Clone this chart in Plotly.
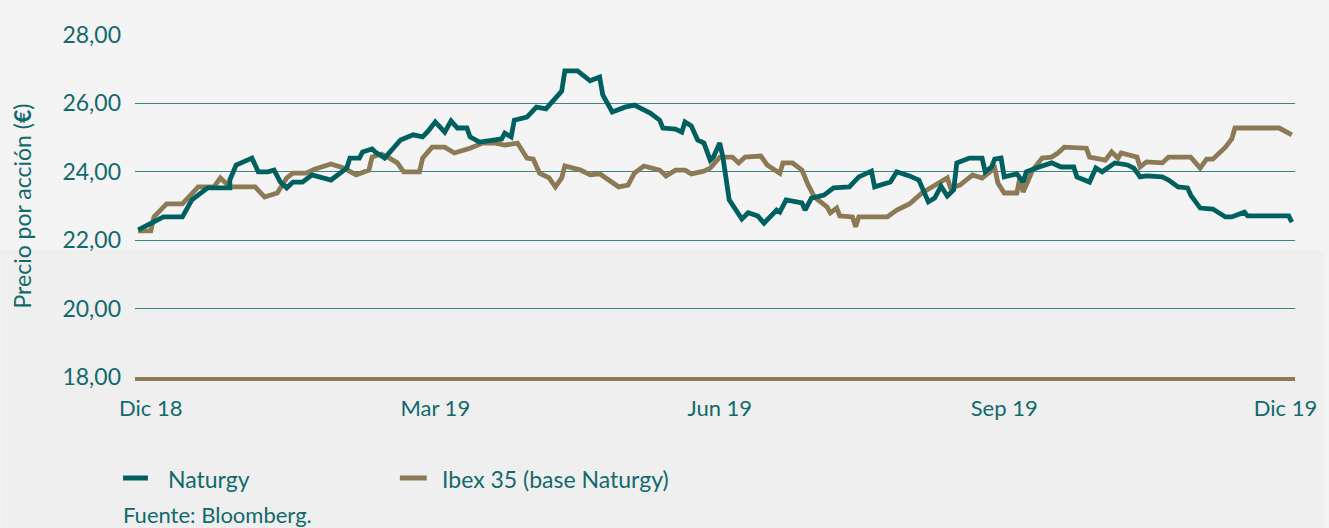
import pandas as pd
import plotly.graph_objects as go

# ---- data ----
base_date = "2018-12-31"

naturgy_day = [0, 8, 14, 17, 22, 29, 29, 31, 36, 38, 41, 43, 45, 47, 49, 52, 55, 61, 66, 67,
               70, 71, 74, 75, 78, 83, 87, 90, 92, 94, 97, 99, 101, 104, 105, 108, 115, 116, 118, 119,
               123, 126, 129, 134, 135, 139, 143, 146, 147, 150, 154, 157, 162, 165, 166, 170, 172, 173, 175, 177,
               179, 181, 182, 184, 185, 187, 191, 193, 196, 198, 202, 203, 205, 210, 211, 213, 217, 220, 225, 228,
               232, 233, 238, 240, 244, 247, 250, 252, 254, 256, 258, 259, 263, 267, 268, 270, 271, 273, 274, 278,
               280, 281, 285, 289, 292, 296, 297, 301, 303, 305, 309, 313, 315, 317, 319, 324, 326, 329, 332, 333,
               336, 340, 344, 346, 350, 351, 357, 364, 365]
naturgy_val = [22.30, 22.68, 22.68, 23.18, 23.53, 23.53, 23.76, 24.20, 24.40, 24.00, 24.00, 24.05, 23.70, 23.53, 23.70, 23.70, 23.91, 23.76, 24.11, 24.40,
               24.40, 24.58, 24.67, 24.58, 24.40, 24.93, 25.08, 25.02, 25.22, 25.46, 25.16, 25.49, 25.28, 25.28, 25.02, 24.87, 24.96, 25.13, 25.02, 25.51,
               25.60, 25.89, 25.84, 26.36, 26.95, 26.95, 26.66, 26.77, 26.25, 25.75, 25.89, 25.95, 25.72, 25.51, 25.28, 25.25, 25.16, 25.46, 25.34, 24.93,
               24.84, 24.34, 24.43, 24.84, 24.43, 23.18, 22.62, 22.80, 22.71, 22.50, 22.88, 22.82, 23.18, 23.09, 22.88, 23.23, 23.32, 23.53, 23.56, 23.85,
               24.02, 23.56, 23.70, 24.00, 23.88, 23.76, 23.12, 23.23, 23.58, 23.29, 23.47, 24.26, 24.40, 24.40, 24.00, 24.14, 24.37, 24.40, 23.85, 23.94,
               23.70, 24.00, 24.14, 24.26, 24.14, 24.14, 23.85, 23.70, 24.11, 24.00, 24.26, 24.20, 24.11, 23.85, 23.88, 23.85, 23.76, 23.56, 23.53, 23.32,
               22.94, 22.91, 22.68, 22.68, 22.82, 22.71, 22.71, 22.71, 22.53]

ibex_day = [0, 4, 5, 9, 14, 19, 24, 26, 29, 37, 40, 44, 47, 49, 53, 56, 61, 65, 69, 73,
            74, 77, 79, 82, 84, 89, 90, 93, 97, 100, 105, 109, 113, 116, 120, 123, 125, 127, 130, 132,
            134, 135, 140, 143, 146, 152, 155, 157, 160, 165, 167, 170, 173, 175, 179, 181, 184, 188, 190, 192,
            197, 199, 203, 204, 207, 210, 212, 214, 218, 219, 221, 222, 226, 227, 228, 237, 240, 244, 248, 251,
            254, 256, 257, 260, 264, 267, 271, 272, 274, 278, 279, 280, 283, 286, 289, 291, 293, 296, 300, 301,
            306, 308, 310, 311, 316, 317, 319, 324, 326, 333, 336, 338, 340, 344, 346, 347, 361, 365]
ibex_val = [22.27, 22.27, 22.68, 23.06, 23.06, 23.56, 23.56, 23.82, 23.56, 23.56, 23.26, 23.38, 23.82, 23.96, 23.96, 24.08, 24.23, 24.11, 23.91, 24.05,
            24.43, 24.52, 24.43, 24.26, 24.00, 24.00, 24.40, 24.72, 24.72, 24.55, 24.69, 24.84, 24.84, 24.78, 24.84, 24.40, 24.37, 23.96, 23.82, 23.56,
            23.82, 24.17, 24.05, 23.91, 23.94, 23.56, 23.61, 23.96, 24.17, 24.05, 23.88, 24.05, 24.05, 23.94, 24.02, 24.11, 24.43, 24.43, 24.26, 24.43,
            24.46, 24.20, 23.96, 24.26, 24.26, 24.05, 23.61, 23.26, 22.97, 22.80, 22.94, 22.71, 22.68, 22.39, 22.68, 22.68, 22.88, 23.06, 23.38, 23.56,
            23.73, 23.82, 23.53, 23.61, 23.91, 23.82, 24.11, 23.67, 23.38, 23.38, 23.85, 23.41, 24.05, 24.40, 24.43, 24.55, 24.72, 24.72, 24.69, 24.43,
            24.34, 24.58, 24.40, 24.55, 24.43, 24.14, 24.29, 24.26, 24.43, 24.43, 24.11, 24.37, 24.37, 24.72, 24.96, 25.28, 25.28, 25.08]

x_tick_days = [4, 94, 184, 274, 363]
x_tick_text = ["Dic 18", "Mar 19", "Jun 19", "Sep 19", "Dic 19"]
y_tick_vals = [18, 20, 22, 24, 26, 28]

series_names = ["Naturgy", "Ibex 35 (base Naturgy)"]

# ---- styling ----
TEAL = "#00605f"
BROWN = "#8b7a55"
TEXT = "#126a6c"
GRID = "#3a8487"
BG = "#f4f4f4"
FONT = "Lato"

base = pd.Timestamp(base_date)
to_dates = lambda days: [base + pd.Timedelta(days=d) for d in days]

fig = go.Figure()
fig.add_trace(go.Scatter(x=to_dates(ibex_day), y=ibex_val, mode="lines",
                         name=series_names[1], showlegend=False,
                         line=dict(color=BROWN, width=4.8)))
fig.add_trace(go.Scatter(x=to_dates(naturgy_day), y=naturgy_val, mode="lines",
                         name=series_names[0], showlegend=False,
                         line=dict(color=TEAL, width=4.8)))

W, H = 1329, 528
L, R, T, B = 135, 29, 35, 151
pw, ph = W - L - R, H - T - B

def px_x(p):
    return (p - L) / pw

def px_y(p):
    return (H - B - p) / ph

# legend (drawn as line samples + text, like the reference)
legend_items = [(series_names[0], TEAL, 123, 148, 166),
                (series_names[1], BROWN, 401, 428, 441)]
legend_y = 478

shapes = [dict(type="rect", xref="paper", yref="paper",
               x0=px_x(0), x1=px_x(W), y0=px_y(H), y1=px_y(250),
               fillcolor="#efefef", line=dict(width=0), layer="below")]
annotations = [
    dict(text="Precio por acción (<b>€</b>)", xref="paper", yref="paper",
         x=px_x(22), y=0.5, xanchor="center", yanchor="middle", textangle=-90,
         showarrow=False, font=dict(size=23, color=TEXT)),
    dict(text="Fuente: Bloomberg.", xref="paper", yref="paper",
         x=px_x(121), y=px_y(514), xanchor="left", yanchor="middle",
         showarrow=False, font=dict(size=22, color=TEXT)),
]
for name, color, lx0, lx1, tx in legend_items:
    shapes.append(dict(type="line", xref="paper", yref="paper",
                       x0=px_x(lx0), x1=px_x(lx1), y0=px_y(legend_y), y1=px_y(legend_y),
                       line=dict(color=color, width=5)))
    annotations.append(dict(text=name, xref="paper", yref="paper",
                            x=px_x(tx), y=px_y(legend_y + 1), xanchor="left", yanchor="middle",
                            showarrow=False, font=dict(size=23, color=TEXT)))

fig.update_layout(
    width=W, height=H,
    margin=dict(l=L, r=R, t=T, b=B),
    paper_bgcolor=BG,
    plot_bgcolor="rgba(0,0,0,0)",
    separators=",.",
    font=dict(family=FONT, color=TEXT, size=22),
    showlegend=False,
    xaxis=dict(type="date",
               range=[base - pd.Timedelta(days=1), base + pd.Timedelta(days=366)],
               tickvals=to_dates(x_tick_days), ticktext=x_tick_text,
               showgrid=False, zeroline=False,
               showline=True, linecolor=BROWN, linewidth=3.5,
               ticks="", ticklabelstandoff=9,
               tickfont=dict(size=22, color=TEXT)),
    yaxis=dict(range=[18, 28], tickvals=y_tick_vals, tickformat=".2f",
               showgrid=True, gridcolor=GRID, gridwidth=1.2,
               zeroline=False, showline=False, ticks="", ticklabelstandoff=13,
               tickfont=dict(size=23, color=TEXT)),
    shapes=shapes,
    annotations=annotations,
)

fig.write_html("out.html",
               config={"displayModeBar": False},
               post_script="document.body.style.margin='0';"
                           "document.body.style.background='" + BG + "';")
